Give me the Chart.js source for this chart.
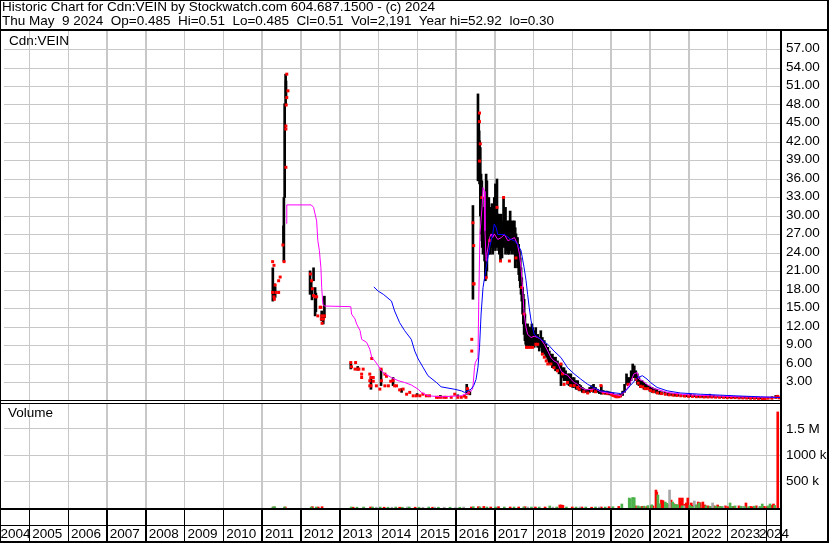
<!DOCTYPE html>
<html>
<head>
<meta charset="utf-8">
<script src="https://cdn.jsdelivr.net/npm/chart.js@4.4.1/dist/chart.umd.min.js"></script>
<style>
  body { margin: 0; background: #fff; }
  #wrap { position: relative; width: 830px; height: 543px; font-family: "Liberation Sans", Arial, sans-serif; font-size: 13.5px; color: #000; }
  #wrap canvas { position: absolute; left: 0; top: 0; }
  .txt { position: absolute; white-space: pre; line-height: 15px; }
</style>
</head>
<body>
<div id="wrap">
  <canvas id="chart" width="830" height="543"></canvas>
  <div class="txt" style="left:2px; top:-1px;">Historic Chart for Cdn:VEIN by Stockwatch.com 604.687.1500 - (c) 2024</div>
  <div class="txt" style="left:2px; top:13px;">Thu May  9 2024  Op=0.485  Hi=0.51  Lo=0.485  Cl=0.51  Vol=2,191  Year hi=52.92  lo=0.30</div>
  <div class="txt" style="left:9px; top:33px;">Cdn:VEIN</div>
  <div class="txt" style="left:8px; top:405px;">Volume</div>
</div>
<script>
// x axis runs in decimal years
const X_MIN = 2004.348, X_MAX = 2024.358

const yearTicks = [2004.18, 2005, 2006, 2007, 2008, 2009, 2010, 2011, 2012, 2013, 2014, 2015,
  2016, 2017, 2018, 2019, 2020, 2021, 2022, 2023, 2023.74, 2024]
const yearLabels = ['2004', '2005', '2006', '2007', '2008', '2009', '2010', '2011', '2012', '2013', '2014', '2015',
  '2016', '2017', '2018', '2019', '2020', '2021', '2022', '2023', '2024', '']
const labelOnlyTicks = [2004.18, 2023.74]
const gridYears = [2005, 2006, 2007, 2008, 2009, 2010, 2011, 2012, 2013, 2014, 2015,
  2016, 2017, 2018, 2019, 2020, 2021, 2022, 2023, 2024]

const priceTicks = [3, 6, 9, 12, 15, 18, 21, 24, 27, 30, 33, 36, 39, 42, 45, 48, 51, 54, 57]
const volTicks = [500000, 1000000, 1500000]
const volTickLabels = ['500 k', '1000 k', '1.5 M']

// daily range bars [year, low, high]
const priceBars = [
  [2011.28, 16.2, 21.6], [2011.32, 17.3, 19.0], [2011.34, 16.8, 18.5],
  [2011.555, 25.2, 28.4], [2011.565, 22.6, 33.0], [2011.585, 33.0, 48.2], [2011.61, 48.2, 53.0], [2011.62, 49.2, 51.9],
  [2012.24, 17.3, 21.1], [2012.27, 17.9, 19.5], [2012.29, 16.4, 18.4], [2012.33, 19.5, 21.6], [2012.37, 13.8, 18.4],
  [2012.39, 14.5, 17.5], [2012.54, 13.0, 14.6], [2012.58, 12.5, 14.0], [2012.61, 13.5, 17.0],
  [2013.29, 5.2, 6.2], [2013.47, 5.0, 5.6], [2013.81, 1.9, 3.8], [2014.07, 2.5, 5.2], [2014.38, 2.5, 3.8],
  [2014.60, 1.4, 2.0], [2015.00, 0.8, 1.2], [2015.60, 0.6, 0.9], [2016.05, 0.7, 1.0], [2016.28, 1.1, 2.7], [2016.36, 1.0, 1.6],
  [2016.44, 16.5, 31.7], [2016.57, 35.7, 49.8], [2016.59, 36.0, 46.5], [2016.60, 38.4, 43.8], [2016.61, 35.2, 42.2],
  [2016.63, 30.0, 41.1], [2016.65, 27.1, 36.8], [2016.67, 26.0, 35.7], [2016.68, 24.9, 33.0], [2016.70, 23.8, 31.4],
  [2016.72, 25.4, 30.3], [2016.74, 22.7, 31.4], [2016.76, 19.5, 30.3], [2016.78, 20.0, 36.8], [2016.80, 21.1, 35.7],
  [2016.82, 24.9, 31.4], [2016.85, 23.8, 33.0], [2016.87, 24.9, 30.3], [2016.89, 23.8, 31.4], [2016.91, 25.4, 30.3],
  [2016.93, 24.9, 32.0], [2016.95, 23.8, 30.3], [2016.97, 25.4, 29.2], [2016.99, 24.9, 33.0], [2017.02, 24.4, 35.2],
  [2017.04, 25.4, 34.0], [2017.06, 24.9, 36.0], [2017.08, 25.4, 30.3], [2017.10, 24.4, 29.2], [2017.12, 23.8, 30.3],
  [2017.15, 22.7, 29.2], [2017.17, 24.4, 30.3], [2017.19, 23.2, 28.1], [2017.21, 25.4, 29.2], [2017.23, 26.5, 33.0],
  [2017.25, 24.9, 30.3], [2017.28, 23.8, 31.4], [2017.30, 24.4, 29.2], [2017.32, 24.9, 28.1], [2017.34, 23.8, 29.2],
  [2017.36, 24.9, 28.6], [2017.38, 23.8, 29.2], [2017.40, 24.9, 30.8], [2017.42, 24.4, 29.2], [2017.45, 23.8, 28.6],
  [2017.47, 24.9, 29.2], [2017.49, 24.4, 27.6], [2017.51, 23.8, 29.2], [2017.53, 21.6, 28.1], [2017.55, 23.2, 27.1],
  [2017.57, 22.7, 26.5], [2017.59, 21.6, 26.5], [2017.62, 20.5, 25.4], [2017.64, 19.5, 24.4], [2017.66, 18.4, 23.2],
  [2017.68, 17.3, 21.6], [2017.70, 16.2, 20.0], [2017.72, 14.1, 18.4], [2017.74, 12.5, 17.3], [2017.76, 10.8, 16.5],
  [2017.78, 9.8, 14.1], [2017.80, 9.2, 12.5], [2017.82, 8.7, 11.9], [2017.85, 9.2, 12.5], [2017.87, 8.7, 11.4],
  [2017.89, 9.2, 12.0], [2017.91, 8.7, 11.9], [2017.94, 9.2, 11.4], [2017.96, 8.7, 12.5], [2017.98, 9.2, 11.9],
  [2018.02, 8.7, 11.4], [2018.06, 9.2, 11.9], [2018.11, 8.7, 10.8], [2018.15, 8.1, 10.3], [2018.19, 8.7, 11.4],
  [2018.23, 7.6, 10.3], [2018.28, 7.6, 9.8], [2018.32, 7.1, 9.2], [2018.37, 6.5, 8.7], [2018.41, 6.0, 8.1],
  [2018.45, 6.0, 7.6], [2018.49, 5.4, 7.6], [2018.53, 5.4, 7.1], [2018.57, 4.9, 7.1], [2018.62, 4.9, 6.5],
  [2018.66, 4.4, 6.0], [2018.71, 2.5, 6.0], [2018.75, 3.8, 5.4], [2018.79, 3.3, 5.4], [2018.83, 3.3, 4.9],
  [2018.88, 2.7, 4.4], [2018.92, 2.5, 4.4], [2018.96, 2.5, 4.4], [2019.01, 2.2, 3.8], [2019.05, 2.2, 3.8],
  [2019.10, 1.9, 3.3], [2019.14, 1.9, 3.3], [2019.18, 1.65, 2.7], [2019.22, 1.65, 2.5], [2019.26, 1.4, 2.2],
  [2019.30, 1.4, 2.0], [2019.35, 1.4, 1.9], [2019.40, 1.2, 1.9], [2019.45, 1.4, 2.2], [2019.50, 1.6, 2.5],
  [2019.55, 1.4, 2.7], [2019.60, 1.4, 2.2], [2019.65, 1.4, 1.9], [2019.70, 1.2, 1.7], [2019.75, 1.1, 2.5],
  [2019.80, 1.2, 1.7], [2019.85, 1.1, 1.6], [2019.90, 1.1, 1.6], [2019.95, 1.0, 1.5], [2020.00, 1.0, 1.4],
  [2020.05, 0.9, 1.3], [2020.10, 0.7, 1.1], [2020.15, 0.6, 1.0], [2020.20, 0.6, 1.0], [2020.25, 0.7, 1.1],
  [2020.30, 0.9, 1.6], [2020.35, 1.4, 2.7], [2020.40, 2.7, 4.4], [2020.44, 2.5, 3.8], [2020.48, 2.7, 3.8],
  [2020.52, 3.3, 4.9], [2020.56, 3.8, 6.0], [2020.60, 3.8, 5.7], [2020.64, 3.3, 4.9], [2020.68, 2.7, 4.4],
  [2020.72, 2.5, 3.8], [2020.76, 2.2, 3.3], [2020.80, 2.2, 3.3], [2020.85, 1.9, 3.0], [2020.90, 1.9, 2.7],
  [2020.95, 1.9, 2.5], [2021.00, 1.6, 2.4], [2021.06, 1.4, 2.2], [2021.12, 1.4, 2.0], [2021.18, 1.2, 1.9],
  [2021.25, 1.1, 1.6], [2021.32, 1.1, 1.5], [2021.40, 1.0, 1.4], [2021.48, 0.9, 1.3], [2021.56, 0.9, 1.2],
  [2021.64, 0.8, 1.2], [2021.72, 0.8, 1.1], [2021.80, 0.8, 1.0], [2021.88, 0.7, 1.0], [2021.96, 0.7, 1.0],
  [2022.05, 0.7, 1.1], [2022.15, 0.7, 1.0], [2022.25, 0.6, 0.9], [2022.35, 0.6, 0.9], [2022.45, 0.6, 0.9],
  [2022.55, 0.6, 1.1], [2022.65, 0.6, 0.9], [2022.75, 0.6, 0.8], [2022.85, 0.55, 0.8], [2022.95, 0.5, 0.8],
  [2023.05, 0.5, 0.9], [2023.15, 0.5, 0.8], [2023.25, 0.5, 0.7], [2023.35, 0.45, 0.7], [2023.45, 0.45, 0.7],
  [2023.55, 0.4, 0.7], [2023.65, 0.4, 0.65], [2023.75, 0.4, 0.6], [2023.85, 0.35, 0.6], [2023.95, 0.3, 0.6],
  [2024.05, 0.4, 0.6], [2024.15, 0.4, 0.7], [2024.25, 0.45, 0.9], [2024.33, 0.48, 0.55]
]

// red close marks [year, price]
const closeMarks = [
  [2011.275, 22.6], [2011.31, 22.0], [2011.47, 20.1], [2011.43, 19.5], [2011.34, 18.8], [2011.275, 17.6],
  [2011.36, 17.6], [2011.43, 17.6], [2011.31, 16.9], [2011.32, 16.5],
  [2011.54, 25.3], [2011.57, 22.6], [2011.617, 37.9], [2011.617, 44.6], [2011.617, 44.1], [2011.625, 48.0],
  [2011.64, 49.2], [2011.67, 50.3], [2011.64, 53.0],
  [2012.25, 20.6], [2012.28, 19.5], [2012.30, 18.2], [2012.33, 17.1], [2012.37, 16.9], [2012.41, 16.9],
  [2012.44, 13.8], [2012.50, 15.2], [2012.52, 15.2], [2012.54, 13.8], [2012.53, 13.3], [2012.585, 13.3],
  [2012.55, 12.6], [2012.61, 13.8],
  [2013.29, 6.24], [2013.415, 6.24], [2013.31, 5.55], [2013.40, 5.17], [2013.47, 5.17], [2013.50, 5.17],
  [2013.61, 5.17], [2013.57, 4.36], [2013.57, 3.81], [2013.83, 6.9], [2013.78, 4.36], [2013.81, 3.81],
  [2013.87, 3.81], [2013.78, 3.28], [2013.87, 3.2], [2013.78, 2.46], [2013.81, 2.46], [2013.95, 2.46],
  [2014.04, 1.93], [2014.07, 5.17], [2014.08, 3.28], [2014.17, 4.36], [2014.21, 4.0], [2014.17, 2.46],
  [2014.26, 2.46], [2014.32, 3.2], [2014.38, 3.3], [2014.42, 2.46], [2014.47, 2.46], [2014.55, 1.8],
  [2014.64, 1.93], [2014.73, 1.1], [2014.81, 1.4], [2014.90, 0.84], [2014.98, 0.84], [2015.07, 0.84],
  [2015.15, 1.1], [2015.24, 0.84], [2015.32, 0.84], [2015.50, 0.6], [2015.55, 0.6], [2015.62, 0.6],
  [2015.70, 0.6], [2015.75, 0.6], [2015.88, 0.6], [2015.97, 1.1], [2016.05, 0.6], [2016.14, 0.6],
  [2016.22, 0.8], [2016.26, 0.6], [2016.30, 2.0], [2016.33, 1.3], [2016.41, 10.0], [2016.41, 8.1],
  [2016.44, 28.9], [2016.46, 25.2], [2016.45, 19.0], [2016.47, 19.0], [2016.61, 46.7], [2016.61, 45.3],
  [2016.63, 41.7], [2016.61, 38.9], [2016.67, 33.0], [2016.78, 20.0], [2016.87, 26.0], [2017.06, 31.4],
  [2017.23, 33.0], [2017.15, 22.7], [2017.38, 22.7], [2017.55, 23.2], [2017.70, 18.4], [2017.76, 14.1],
  [2017.82, 8.7], [2017.87, 8.7], [2017.92, 8.7], [2017.98, 8.7], [2018.06, 9.2], [2018.11, 9.2],
  [2018.23, 7.6], [2018.28, 7.1], [2018.33, 6.5], [2018.37, 6.0], [2018.45, 6.0], [2018.53, 5.4],
  [2018.62, 4.9], [2018.71, 6.0], [2018.75, 4.4], [2018.79, 2.7], [2018.88, 3.0], [2018.96, 2.5],
  [2019.05, 2.5], [2019.14, 2.2], [2019.18, 1.9],
  [2019.30, 1.5], [2019.40, 1.3], [2019.50, 1.7], [2019.60, 1.5], [2019.74, 2.5], [2019.80, 1.3],
  [2019.90, 1.2], [2020.00, 1.1], [2020.05, 0.9], [2020.10, 0.8], [2020.13, 0.7], [2020.16, 0.7],
  [2020.20, 0.7], [2020.24, 0.8], [2020.44, 2.7], [2020.64, 3.5], [2020.70, 2.9], [2020.76, 2.4],
  [2020.82, 2.3], [2020.88, 2.0], [2020.95, 2.0], [2021.02, 1.7], [2021.10, 1.5], [2021.20, 1.3],
  [2021.30, 1.2], [2021.40, 1.1], [2021.50, 1.0], [2021.60, 0.95], [2021.70, 0.9], [2021.80, 0.85],
  [2021.90, 0.8], [2022.00, 0.75], [2022.10, 0.75], [2022.20, 0.7], [2022.30, 0.7], [2022.40, 0.65],
  [2022.50, 0.65], [2022.60, 0.65], [2022.70, 0.62], [2022.80, 0.6], [2022.90, 0.6], [2023.00, 0.55],
  [2023.10, 0.55], [2023.20, 0.55], [2023.30, 0.5], [2023.40, 0.5], [2023.50, 0.48], [2023.60, 0.45],
  [2023.70, 0.45], [2023.80, 0.42], [2023.90, 0.35], [2023.97, 0.33], [2024.05, 0.45], [2024.15, 0.45],
  [2024.25, 0.6], [2024.30, 0.75], [2024.34, 0.51]
]

// short moving average (magenta)
const maFast = [
  [2011.625, 28.8], [2011.64, 31.8], [2012.27, 31.8], [2012.33, 31.4], [2012.41, 29.2], [2012.44, 26.0],
  [2012.48, 24.4], [2012.52, 21.6], [2012.54, 18.4], [2012.57, 15.7], [2012.61, 15.4], [2013.29, 15.3],
  [2013.31, 14.1], [2013.40, 13.3], [2013.44, 12.5], [2013.53, 11.4], [2013.57, 10.0], [2013.70, 9.5],
  [2013.78, 8.4], [2013.83, 7.1], [2013.91, 6.5], [2014.00, 5.7], [2014.08, 4.9], [2014.17, 4.4],
  [2014.34, 3.8], [2014.51, 3.3], [2014.68, 3.0], [2014.85, 2.6], [2015.03, 1.9], [2015.11, 1.4],
  [2015.28, 0.85], [2015.62, 0.68], [2016.14, 0.85], [2016.35, 1.4], [2016.43, 1.9], [2016.45, 3.0],
  [2016.48, 5.4], [2016.50, 6.2], [2016.57, 7.05], [2016.59, 16.2], [2016.62, 27.0], [2016.68, 31.9],
  [2016.70, 34.6], [2016.74, 34.0], [2016.75, 27.6], [2016.78, 22.7], [2016.80, 23.8], [2016.87, 26.5],
  [2016.91, 27.1], [2016.95, 26.5], [2016.99, 27.1], [2017.08, 26.2], [2017.17, 26.5], [2017.25, 27.0],
  [2017.34, 26.0], [2017.42, 26.2], [2017.51, 26.5], [2017.59, 25.4], [2017.64, 23.8], [2017.68, 21.6],
  [2017.72, 18.4], [2017.76, 14.1], [2017.81, 11.9], [2017.85, 10.8], [2017.94, 10.3], [2018.02, 10.5],
  [2018.11, 10.3], [2018.19, 10.0], [2018.28, 9.2], [2018.37, 8.1], [2018.45, 7.05], [2018.53, 6.5],
  [2018.62, 6.2], [2018.71, 4.9], [2018.79, 4.4], [2018.88, 4.2], [2018.96, 3.55], [2019.05, 3.0],
  [2019.14, 2.7], [2019.22, 2.2], [2019.35, 1.8], [2019.50, 1.9], [2019.60, 2.0], [2019.73, 1.5],
  [2020.00, 1.2], [2020.25, 0.85], [2020.38, 1.65], [2020.50, 3.0], [2020.59, 4.4], [2020.68, 4.6],
  [2020.72, 3.55], [2020.81, 3.3], [2020.93, 2.7], [2021.10, 2.0], [2021.19, 1.9], [2021.45, 1.4],
  [2021.96, 1.0], [2022.56, 0.85], [2023.33, 0.68], [2024.36, 0.57]
]

// long moving average (blue)
const maSlow = [
  [2013.885, 18.5], [2014.00, 17.8], [2014.13, 17.3], [2014.34, 16.2], [2014.42, 14.6], [2014.55, 12.7],
  [2014.68, 11.4], [2014.85, 10.0], [2014.94, 8.1], [2015.03, 6.8], [2015.15, 5.5], [2015.28, 4.1],
  [2015.50, 3.0], [2015.62, 2.3], [2015.97, 1.9], [2016.14, 1.65], [2016.22, 1.4], [2016.39, 1.9],
  [2016.46, 2.5], [2016.52, 3.5], [2016.57, 5.5], [2016.61, 8.7], [2016.65, 14.1], [2016.70, 18.4],
  [2016.78, 21.6], [2016.87, 24.9], [2016.95, 27.1], [2016.99, 28.7], [2017.04, 28.1], [2017.08, 27.0],
  [2017.25, 27.0], [2017.42, 26.2], [2017.51, 26.0], [2017.59, 25.4], [2017.68, 24.4], [2017.76, 21.6],
  [2017.81, 19.5], [2017.85, 17.3], [2017.89, 15.2], [2017.94, 13.0], [2018.02, 10.8], [2018.19, 10.0],
  [2018.37, 9.2], [2018.53, 8.1], [2018.71, 7.05], [2018.88, 5.4], [2019.05, 4.4], [2019.22, 3.55],
  [2019.40, 2.7], [2019.55, 2.2], [2019.73, 1.65], [2019.99, 1.4], [2020.25, 1.2], [2020.38, 1.65],
  [2020.50, 2.5], [2020.68, 3.8], [2020.81, 4.1], [2020.93, 3.55], [2021.02, 3.0], [2021.19, 2.2],
  [2021.45, 1.65], [2021.79, 1.3], [2022.30, 1.1], [2023.16, 0.85], [2023.85, 0.68], [2024.36, 0.57]
]

// volume [year, shares] split by day type
const volUp = [
  [2011.28, 19000], [2011.33, 25000], [2011.58, 19000], [2012.27, 19000], [2012.40, 19000], [2013.30, 19000],
  [2013.45, 15000], [2013.62, 19000], [2013.85, 19000], [2014.05, 19000], [2014.25, 15000], [2014.45, 19000],
  [2014.62, 15000], [2014.80, 19000], [2015.05, 15000], [2015.30, 19000], [2015.55, 15000], [2015.85, 15000],
  [2016.10, 15000], [2016.45, 25000], [2016.62, 20000], [2016.80, 19000], [2017.02, 19000], [2017.25, 19000],
  [2017.50, 19000], [2017.75, 19000], [2017.95, 19000], [2018.15, 19000], [2018.42, 38000], [2018.60, 19000],
  [2018.85, 19000], [2019.10, 19000], [2019.35, 19000], [2019.60, 19000], [2019.85, 19000], [2020.05, 25000],
  [2020.28, 76000], [2020.47, 189000], [2020.50, 175000], [2020.56, 200000], [2020.60, 195000], [2020.70, 40000],
  [2020.75, 25000], [2020.85, 35000], [2020.95, 45000], [2021.05, 60000], [2021.21, 246000], [2021.25, 80000],
  [2021.40, 113000], [2021.44, 90000], [2021.59, 113000], [2021.66, 70000], [2021.72, 60000], [2021.83, 40000],
  [2022.03, 50000], [2022.10, 30000], [2022.20, 60000], [2022.27, 95000], [2022.45, 40000], [2022.55, 30000],
  [2022.70, 35000], [2022.78, 25000], [2022.85, 30000], [2023.07, 95000], [2023.12, 30000], [2023.20, 40000],
  [2023.35, 30000], [2023.45, 25000], [2023.55, 25000], [2023.70, 35000], [2023.85, 30000], [2023.90, 76000],
  [2024.05, 40000], [2024.10, 76000], [2024.22, 50000]
]
const volDown = [
  [2011.30, 19000], [2011.60, 19000], [2012.30, 25000], [2012.45, 19000], [2012.55, 25000], [2013.35, 15000],
  [2013.80, 19000], [2014.15, 15000], [2014.55, 15000], [2014.95, 15000], [2015.40, 15000], [2016.40, 19000],
  [2016.58, 25000], [2016.72, 30000], [2016.90, 19000], [2017.10, 25000], [2017.40, 19000], [2017.62, 19000],
  [2017.78, 25000], [2018.05, 19000], [2018.30, 19000], [2018.68, 57000], [2018.72, 57000], [2018.76, 50000],
  [2019.00, 19000], [2019.25, 19000], [2019.50, 15000], [2019.75, 19000], [2019.95, 25000], [2020.20, 30000],
  [2020.63, 40000], [2020.80, 30000], [2020.92, 25000], [2021.04, 38000], [2021.08, 38000], [2021.16, 340000],
  [2021.18, 300000], [2021.30, 150000], [2021.34, 140000], [2021.50, 60000], [2021.55, 150000], [2021.62, 80000],
  [2021.70, 60000], [2021.77, 189000], [2021.80, 120000], [2021.84, 189000], [2021.90, 70000], [2021.94, 95000],
  [2021.98, 189000], [2022.07, 95000], [2022.12, 50000], [2022.25, 113000], [2022.30, 100000], [2022.37, 113000],
  [2022.42, 57000], [2022.50, 40000], [2022.58, 25000], [2022.66, 40000], [2022.75, 57000], [2022.80, 30000],
  [2022.95, 40000], [2023.02, 25000], [2023.15, 30000], [2023.30, 40000], [2023.38, 25000], [2023.48, 95000],
  [2023.60, 30000], [2023.66, 25000], [2023.75, 40000], [2023.95, 30000], [2024.02, 25000], [2024.15, 50000],
  [2024.19, 76000], [2024.30, 1820000]
]
const volFlat = [
  [2013.95, 15000], [2014.35, 15000], [2014.75, 19000], [2015.15, 15000], [2015.45, 15000], [2015.70, 15000],
  [2016.00, 15000], [2016.20, 19000], [2017.85, 19000], [2018.50, 19000], [2019.20, 19000], [2019.70, 19000],
  [2021.51, 340000], [2021.88, 40000], [2022.15, 132000], [2022.62, 95000], [2022.90, 25000], [2023.40, 30000],
  [2023.80, 25000]
]

const GRID = '#c8c8c8'
const CLEAR = 'rgba(0,0,0,0)'

Chart.defaults.font.family = '"Liberation Sans", Arial, sans-serif'
Chart.defaults.font.size = 13.5
Chart.defaults.color = '#000'

// x pixel of a year, from the x scale (falls back to the chart area span)
function yearPixel(chart, v) {
  const a = chart.chartArea
  const p = chart.scales.x.getPixelForValue(v)
  return Number.isFinite(p) ? p : a.left + (v - X_MIN) / (X_MAX - X_MIN) * (a.right - a.left)
}

function vline(ctx, px, y1, y2, color) {
  ctx.beginPath()
  ctx.strokeStyle = color
  ctx.lineWidth = 1
  ctx.moveTo(Math.round(px) + 0.5, y1)
  ctx.lineTo(Math.round(px) + 0.5, y2)
  ctx.stroke()
}

// year grid lines, panel borders and the axis row boxes
const frame = {
  id: 'frame',
  beforeDatasetsDraw(chart) {
    const {ctx, chartArea: a} = chart
    ctx.save()
    for (const v of gridYears) vline(ctx, yearPixel(chart, v), a.top, a.bottom, GRID)
    ctx.restore()
  },
  afterDraw(chart) {
    const {ctx, chartArea: a} = chart
    const split = chart.scales.yP.bottom
    ctx.save()
    ctx.fillStyle = '#fff'
    ctx.fillRect(0, split, a.right, 2)
    for (const v of gridYears) vline(ctx, yearPixel(chart, v), a.bottom, 542, '#000')
    ctx.fillStyle = '#000'
    ctx.fillRect(0, 0, 829, 1)
    ctx.fillRect(0, 0, 1, 543)
    ctx.fillRect(827, 0, 2, 543)
    ctx.fillRect(0, 541, 829, 2)
    ctx.fillRect(0, 29, 829, 2)
    ctx.fillRect(a.right, a.top, 2, 543 - a.top)
    ctx.fillRect(0, split - 1, a.right, 1)
    ctx.fillRect(0, split + 2, a.right, 1)
    ctx.fillRect(0, a.bottom, a.right, 2)
    ctx.fillRect(0, a.bottom + 17, a.right, 1)
    ctx.restore()
  }
}

const xy = arr => arr.map(([x, y]) => ({x, y}))
const barStyle = {type: 'bar', barThickness: 2, grouped: false, borderWidth: 0}
const isLabelOnly = c => !!(c.tick && labelOnlyTicks.includes(c.tick.value))

new Chart(document.getElementById('chart'), {
  type: 'bar',
  data: {
    datasets: [
      {type: 'line', data: xy(maSlow), yAxisID: 'yP', borderColor: '#0000ff', borderWidth: 1, pointRadius: 0, tension: 0, order: 1},
      {type: 'line', data: xy(maFast), yAxisID: 'yP', borderColor: '#ff00ff', borderWidth: 1, pointRadius: 0, tension: 0, order: 2},
      {type: 'scatter', data: xy(closeMarks), yAxisID: 'yP', pointStyle: 'rect', pointRadius: 2.1,
        backgroundColor: '#ff0000', borderWidth: 0, order: 3},
      {...barStyle, data: priceBars.map(([x, lo, hi]) => ({x, y: [lo, hi]})), yAxisID: 'yP', backgroundColor: '#000', order: 4},
      {...barStyle, data: xy(volUp), yAxisID: 'yV', backgroundColor: '#4db34d', order: 5},
      {...barStyle, data: xy(volFlat), yAxisID: 'yV', backgroundColor: '#a8a8a8', order: 6},
      {...barStyle, data: xy(volDown), yAxisID: 'yV', backgroundColor: '#ff0000', order: 7}
    ]
  },
  options: {
    responsive: false,
    animation: false,
    devicePixelRatio: 1,
    events: [],
    layout: {padding: {left: 1, top: 31, right: 2, bottom: 0}},
    plugins: {legend: {display: false}, tooltip: {enabled: false}},
    scales: {
      x: {
        type: 'linear', position: 'bottom', min: X_MIN, max: X_MAX, offset: false,
        afterBuildTicks: s => { s.ticks = yearTicks.map(v => ({value: v})) },
        afterFit: s => { s.height = 35; s.paddingLeft = 0; s.paddingRight = 0 },
        border: {display: false},
        grid: {
          offset: false, tickLength: 33,
          color: c => isLabelOnly(c) ? CLEAR : GRID,
          tickColor: c => isLabelOnly(c) ? CLEAR : '#000'
        },
        ticks: {
          autoSkip: false, maxRotation: 0, align: 'start', labelOffset: 3, padding: -15,
          callback: (v, i) => yearLabels[i]
        }
      },
      yP: {
        type: 'linear', position: 'right', stack: 'panels', stackWeight: 370, min: 0, max: 60,
        afterBuildTicks: s => { s.ticks = priceTicks.map(v => ({value: v})) },
        afterFit: s => { s.width = 48 },
        border: {display: false},
        grid: {color: GRID, drawTicks: false},
        ticks: {autoSkip: false, padding: 6, labelOffset: -1, callback: v => v.toFixed(2)}
      },
      yV: {
        type: 'linear', position: 'right', stack: 'panels', stackWeight: 107, min: 0, max: 2027000,
        afterBuildTicks: s => { s.ticks = volTicks.map(v => ({value: v})) },
        afterFit: s => { s.width = 48 },
        border: {display: false},
        grid: {color: GRID, drawTicks: false},
        ticks: {autoSkip: false, padding: 6, callback: (v, i) => volTickLabels[i]}
      }
    }
  },
  plugins: [frame]
})
</script>
</body>
</html>
